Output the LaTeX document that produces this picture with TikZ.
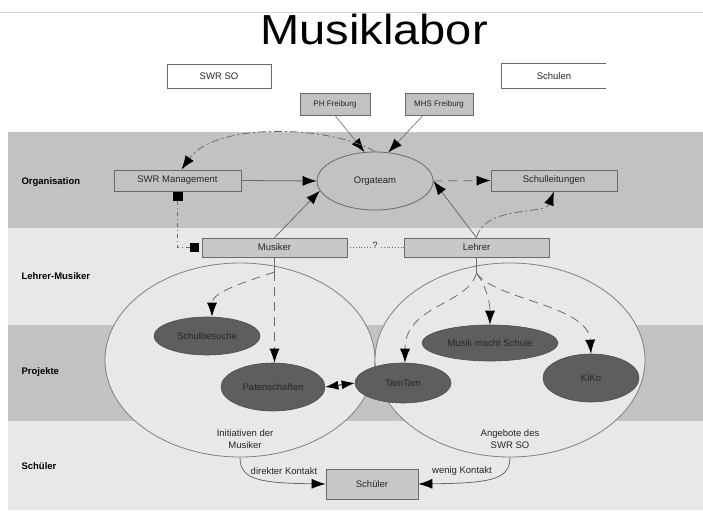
\documentclass[tikz,border=0pt]{standalone}
\usepackage{fontspec}
\setmainfont{Liberation Sans}
\usetikzlibrary{arrows.meta,shapes.geometric,calc}
\definecolor{banddark}{HTML}{C2C2C2}
\definecolor{bandlight}{HTML}{E8E8E8}
\definecolor{linegray}{HTML}{6A6A6A}
\definecolor{boxfill}{HTML}{C8C8C8}
\definecolor{darkell}{HTML}{5E5E5E}
\definecolor{txt}{HTML}{262626}
\definecolor{topline}{HTML}{D4D4D4}
\begin{document}
\begin{tikzpicture}[x=1pt,y=-1pt,
  every node/.style={font=\fontsize{9.5}{11.5}\selectfont, text=txt},
  plainbox/.style={rectangle, draw=linegray, line width=0.8pt, inner sep=0pt},
  greybox/.style={plainbox, fill=boxfill},
  bandlabel/.style={anchor=west, font=\bfseries\fontsize{9.5}{11}\selectfont, text=black},
  bigell/.style={ellipse, draw=gray, line width=0.8pt, fill=bandlight, inner sep=0pt, minimum width=270pt, minimum height=194pt},
  darkellipse/.style={ellipse, draw=black!70, line width=0.6pt, fill=darkell, inner sep=0pt},
  solidarrow/.style={draw=linegray, line width=0.8pt, -{Latex[length=14pt,width=10pt,color=black]}},
  dasharrow/.style={solidarrow, dash pattern=on 9pt off 6pt},
  dotdasharrow/.style={solidarrow, dash pattern=on 8pt off 3pt on 2pt off 3pt},
  blacksquare/.style={rectangle, fill=black, inner sep=0pt, minimum width=10pt, minimum height=9pt}
]
\useasboundingbox (0,0) rectangle (703,513);
% top rule
\draw[topline, line width=0.8pt] (0,12) -- (703,12);
% bands
\fill[banddark] (8,132) rectangle (703,228);
\fill[bandlight] (8,228) rectangle (703,325);
\fill[banddark] (8,325) rectangle (703,421);
\fill[bandlight] (8,421) rectangle (703,510);

% title
\node[font=\fontsize{42}{48}\selectfont, text=black, anchor=base, inner sep=0pt] (title) at (374,45) {\scalebox{1.12}[1]{Musiklabor}};

% top boxes
\node[plainbox, fill=white, minimum width=104pt, minimum height=24pt] (swrso) at (219,76) {SWR SO};
\node[inner sep=0pt, minimum width=104pt, minimum height=24pt, fill=white] (schulen) at (554,76) {Schulen};
\draw[linegray, line width=0.8pt] (schulen.north east) -- (schulen.north west) -- (schulen.south west) -- (schulen.south east);
\node[greybox, fill=banddark, minimum width=70pt, minimum height=22pt, font=\fontsize{8}{10}\selectfont] (ph) at (335,104) {PH Freiburg};
\node[greybox, fill=banddark, minimum width=68pt, minimum height=22pt, font=\fontsize{8}{10}\selectfont] (mhs) at (439,104) {MHS Freiburg};

% band labels
\node[bandlabel] (lorg) at (18,182) {Organisation};
\node[bandlabel] (llm) at (18,276) {Lehrer-Musiker};
\node[bandlabel] (lproj) at (18,372) {Projekte};
\node[bandlabel] (lsch) at (18,466) {Schüler};

% organisation row
\node[plainbox, minimum width=127pt, minimum height=21pt] (swrm) at (177.5,180.5) {SWR Management};
\node[ellipse, draw=linegray, line width=0.8pt, inner sep=0pt, minimum width=116pt, minimum height=58pt] (orga) at (375,181) {Orgateam};
\node[plainbox, minimum width=126pt, minimum height=21pt] (schl) at (554,180.5) {Schulleitungen};

% lehrer-musiker row
\node[greybox, minimum width=145pt, minimum height=19pt] (musiker) at (274.5,247.5) {Musiker};
\node[greybox, minimum width=145pt, minimum height=19pt] (lehrer) at (476.5,247.5) {Lehrer};
\node[blacksquare, anchor=north] (sq1) at (swrm.south) {};
\node[blacksquare, minimum width=9pt, anchor=east] (sq2) at ($(musiker.west)+(-2,0)$) {};

% big ellipses
\node[bigell] (bigL) at (240,360) {};
\node[bigell] (bigR) at (510,360) {};
\node[align=center] (initxt) at (245,439) {Initiativen der\\Musiker};
\node[align=center] (angtxt) at (510,439) {Angebote des\\SWR SO};

% project ellipses
\node[darkellipse, minimum width=106pt, minimum height=38pt] (schul) at (207,336) {Schulbesuche};
\node[darkellipse, minimum width=104pt, minimum height=48pt] (paten) at (273,387) {Patenschaften};
\node[darkellipse, minimum width=96pt, minimum height=40pt] (tamtam) at (403,383) {TamTam};
\node[darkellipse, minimum width=136pt, minimum height=36pt] (mms) at (490,343) {Musik macht Schule};
\node[darkellipse, minimum width=96pt, minimum height=48pt] (kiko) at (591,378) {KiKo};

% schueler
\node[greybox, minimum width=92pt, minimum height=30pt] (schueler) at (372,484) {Schüler};

% ---- connectors ----
\draw[solidarrow, line width=0.6pt] (ph.south) -- (orga.110);
\draw[solidarrow, line width=0.6pt] ($(mhs.south)+(-16,0)$) -- (orga.65);
\draw[solidarrow] (swrm.east) -- (orga.west);
\draw[solidarrow] (musiker.north) -- (orga.190);
\draw[solidarrow] (lehrer.north) -- (orga.east);
\draw[dasharrow] (orga.east) -- (schl.west);
\draw[dotdasharrow] (orga.north) .. controls (330,125) and (215,122) .. ($(swrm.north)+(4,0)$);
\draw[dotdasharrow] (lehrer.north) .. controls (485,205) and (545,215) .. (schl.south);

% square link
\draw[linegray, line width=0.8pt, dash pattern=on 4pt off 3pt on 1pt off 3pt] (sq1.south) |- (sq2.west);
% musiker - lehrer
\draw[linegray, line width=0.8pt, dotted] (musiker.east) -- (lehrer.west);
\node[fill=bandlight, inner sep=1pt, font=\fontsize{9}{10}\selectfont] (q) at (375,245) {?};

% musiker to projects
\coordinate (m0) at (274.5,272);
\draw[linegray, line width=0.8pt] (musiker.south) -- (m0);
\draw[dasharrow] (m0) -- (paten.north -| m0);
\draw[dasharrow] (m0) .. controls (245,282) and (212,292) .. ($(schul.north)+(5,0)$);

% lehrer to projects
\coordinate (l0) at (476.5,273);
\draw[linegray, line width=0.8pt] (lehrer.south) -- (l0);
\draw[dasharrow] (l0) .. controls (468,305) and (405,305) .. ($(tamtam.north)+(2,0)$);
\draw[dasharrow] (l0) .. controls (485,285) and (490,300) .. (mms.north);
\draw[dasharrow] (l0) .. controls (495,300) and (588,305) .. (kiko.north);

% paten <-> tamtam
\draw[draw=black, line width=0.8pt, {Latex[length=13pt,width=9pt]}-{Latex[length=13pt,width=9pt]}] (paten.east) -- (tamtam.west);

% to schueler
\draw[solidarrow] (bigL.south) .. controls (240,480) and (260,483) .. (schueler.west);
\draw[solidarrow] (bigR.south) .. controls (510,480) and (490,483) .. (schueler.east);
\node (dk) at (284,471) {direkter Kontakt};
\node (wk) at (462,471) {wenig Kontakt};
\end{tikzpicture}
\end{document}
